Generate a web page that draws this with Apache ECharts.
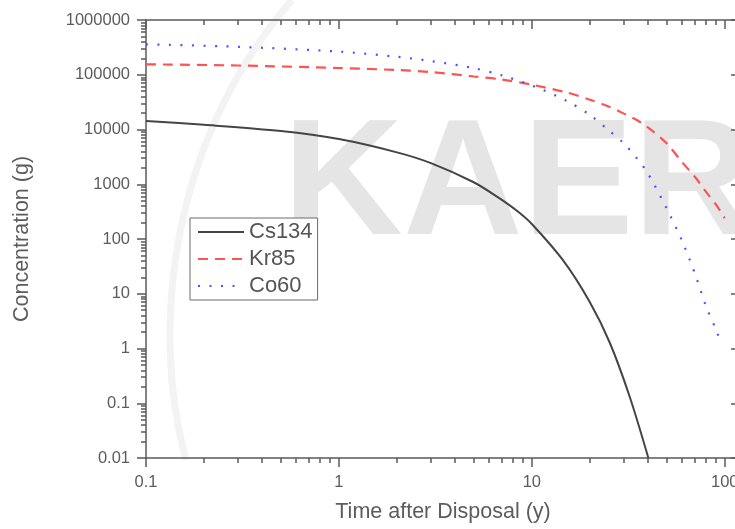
<!DOCTYPE html>
<html><head><meta charset="utf-8">
<script src="https://cdn.jsdelivr.net/npm/echarts@6/dist/echarts.min.js"></script>
<style>html,body{margin:0;padding:0;background:#fff}#c{width:735px;height:529px}</style>
</head><body><div id="c"></div>
<script>
// ---- data ----
const xTickLabels = [0.1, 1, 10, 100];
const yTickLabels = [0.01, 0.1, 1, 10, 100, 1000, 10000, 100000, 1000000];
const seriesNames = ['Cs134', 'Kr85', 'Co60'];

const cs134Years  = [0.1, 0.2, 0.5, 1, 2, 3, 5, 6.6, 8.4, 10, 14.5, 20, 25.4, 32.2, 40.2];
const cs134Values = [14300, 12200, 9380, 6680, 3820, 2430, 1087, 593, 324, 188, 41, 7.0, 1.26, 0.13, 0.01];

const kr85Years  = [0.1, 0.3, 1, 2, 3, 5, 7, 10, 15, 20, 25, 30, 35, 40, 50, 60, 70, 80, 90, 100];
const kr85Values = [155000, 147600, 132800, 122000, 112000, 93000, 81900, 65800, 48000, 35000, 26400, 19500, 14900, 10900, 5600, 2550, 1370, 725, 427, 240];

const co60Years  = [0.1, 0.3, 1, 2, 3, 5, 7, 10, 15, 20, 25, 30, 35, 40, 50, 60, 70, 80, 90, 96];
const co60Values = [360000, 324000, 265000, 213000, 178000, 132000, 97300, 63800, 34000, 18500, 9700, 5600, 2990, 1570, 361, 93.5, 23.6, 5.9, 2.23, 1.2];

// ---- helpers ----
function pairs(xs, ys) { return xs.map((x, i) => [x, ys[i]]); }
function minorTicks(majors) {
  const out = [];
  majors.forEach(m => { for (let k = 2; k <= 9; k++) out.push(+(m * k).toPrecision(6)); });
  return out;
}
const xMinor = minorTicks(xTickLabels);
const yMinor = minorTicks(yTickLabels);

const FONT = '"Liberation Sans", Arial, sans-serif';
const AX = '#5a5a5a';
const TXT = '#5c5c5c';
const X_MIN = 0.1, X_MAX = 120, Y_MIN = 0.01, Y_MAX = 1000000;

function xAx(pos, major, inside, extra) {
  return Object.assign({
    type: 'log', logBase: 10, min: X_MIN, max: X_MAX, position: pos,
    axisLine: { show: major, lineStyle: { color: AX, width: 1.5 } },
    axisTick: { show: true, inside: inside, customValues: major ? xTickLabels : xMinor,
                length: major ? 9 : 5, lineStyle: { color: AX, width: 1.5 } },
    axisLabel: { show: false },
    splitLine: { show: false }, minorTick: { show: false }
  }, extra || {});
}
function yAx(pos, major, inside, extra) {
  return Object.assign({
    type: 'log', logBase: 10, min: Y_MIN, max: Y_MAX, position: pos,
    axisLine: { show: major, lineStyle: { color: AX, width: 1.5 } },
    axisTick: { show: true, inside: inside, customValues: major ? yTickLabels : yMinor,
                length: major ? 9 : 5, lineStyle: { color: AX, width: 1.5 } },
    axisLabel: { show: false },
    splitLine: { show: false }, minorTick: { show: false }
  }, extra || {});
}

const chart = echarts.init(document.getElementById('c'), null, { renderer: 'canvas' });
chart.setOption({
  animation: false,
  backgroundColor: '#ffffff',
  textStyle: { fontFamily: FONT },
  grid: { left: 146, top: 20, right: -5, bottom: 71, containLabel: false, outerBoundsMode: 'none' },
  graphic: [
    { type: 'bezierCurve', z: -11, silent: true,
      shape: { x1: 292, y1: 0, cpx1: 170, cpy1: 140, cpx2: 150, cpy2: 330, x2: 186, y2: 460 },
      style: { stroke: '#f3f3f3', lineWidth: 7, fill: null } },
    { type: 'text', z: -10, silent: true,
      style: { text: 'KAERI', x: 283, y: 188, verticalAlign: 'middle',
               font: 'bold 166px "Liberation Sans", Arial, sans-serif', fill: '#e5e5e5' } }
  ],
  legend: {
    left: 190, top: 218, orient: 'vertical',
    data: seriesNames,
    itemWidth: 46, itemHeight: 14, itemGap: 5,
    padding: [3, 5, 3, 7],
    borderColor: '#6a6a6a', borderWidth: 1, backgroundColor: '#ffffff',
    itemStyle: { color: 'rgba(0,0,0,0)', borderWidth: 0, opacity: 0 },
    textStyle: { fontSize: 22, color: '#555', fontFamily: FONT, lineHeight: 22 }
  },
  xAxis: [
    xAx('bottom', true, false, {
      axisLabel: { show: true, customValues: xTickLabels, formatter: v => String(v),
                   color: TXT, fontSize: 16.5, margin: 16, fontFamily: FONT },
      name: 'Time after Disposal (y)', nameLocation: 'middle', nameGap: 43,
      nameTextStyle: { fontSize: 21.5, color: TXT, fontFamily: FONT }
    }),
    xAx('bottom', false, false),
    xAx('top', true, true),
    xAx('top', false, true)
  ],
  yAxis: [
    yAx('left', true, false, {
      axisLabel: { show: true, customValues: yTickLabels, formatter: v => String(v),
                   color: TXT, fontSize: 16.5, margin: 16, fontFamily: FONT },
      name: 'Concentration (g)', nameLocation: 'middle', nameGap: 113, nameRotate: 90,
      nameTextStyle: { fontSize: 21.5, color: TXT, fontFamily: FONT }
    }),
    yAx('left', false, false),
    yAx('right', true, true),
    yAx('right', false, true)
  ],
  series: [
    { name: 'Cs134', type: 'line', xAxisIndex: 0, yAxisIndex: 0, symbol: 'none', smooth: 0.3,
      data: pairs(cs134Years, cs134Values),
      lineStyle: { color: '#454545', width: 2, type: 'solid' }, itemStyle: { color: '#454545' } },
    { name: 'Kr85', type: 'line', xAxisIndex: 0, yAxisIndex: 0, symbol: 'none', smooth: 0.3,
      data: pairs(kr85Years, kr85Values),
      lineStyle: { color: '#ff5252', width: 2.2, type: [10, 7] }, itemStyle: { color: '#ff5252' } },
    { name: 'Co60', type: 'line', xAxisIndex: 0, yAxisIndex: 0, symbol: 'none', smooth: 0.3,
      data: pairs(co60Years, co60Values),
      lineStyle: { color: '#5050ff', width: 2.2, type: [2, 9.5] }, itemStyle: { color: '#5050ff' } }
  ]
});
</script>
</body></html>
